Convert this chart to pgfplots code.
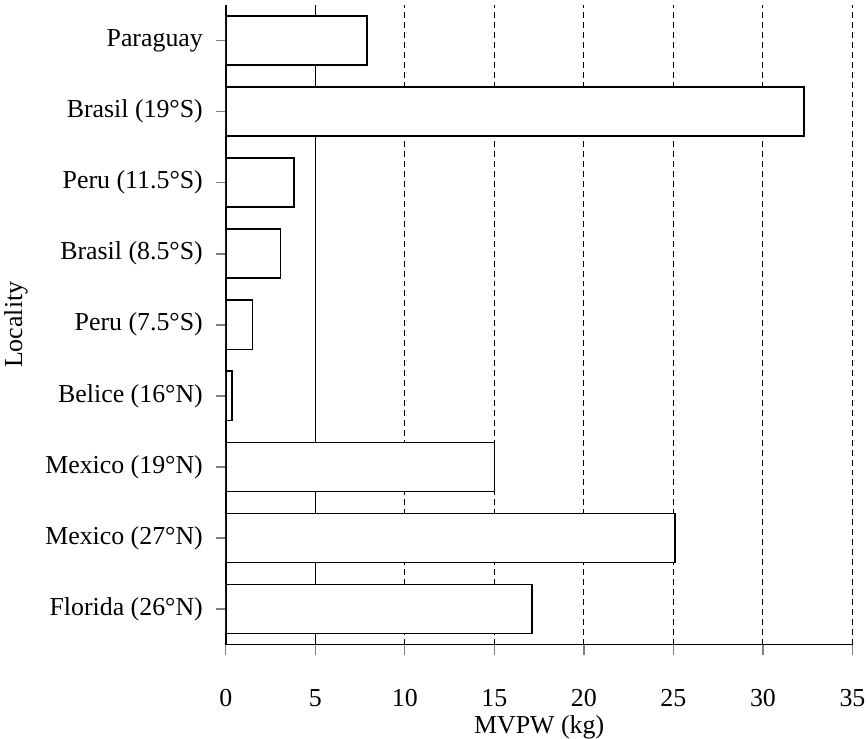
\documentclass[border=0pt]{standalone}
\usepackage{pgfplots}
\pgfplotsset{compat=1.18}
\usepackage{fontspec}
\setmainfont{Liberation Serif}
\begin{document}
\fontsize{13}{15}\selectfont
\begin{tikzpicture}
\useasboundingbox (-113.5pt,-47pt) rectangle (322.3pt,324pt);
\begin{axis}[
  at={(0pt,0pt)}, anchor=south west,
  scale only axis,
  width=315pt, height=321.5pt,
  xbar, bar width=24.7pt,
  xmin=0, xmax=35, ymin=-0.5, ymax=8.5,
  axis x line=bottom, axis y line=left,
  axis line style={-, line width=0.8pt},
  xtick={0,5,...,35},
  ytick={0,...,8},
  yticklabels={Florida (26°N),Mexico (27°N),Mexico (19°N),Belice (16°N),Peru (7.5°S),Brasil (8.5°S),Peru (11.5°S),Brasil (19°S),Paraguay},
  tick align=outside,
  major tick length=5pt,
  xtick style={line width=0.6pt},
  ytick style={line width=0.8pt},
  yticklabel style={xshift=-2pt},
  xticklabel style={yshift=-13pt},
  /pgf/number format/assume math mode=true,
  xmajorgrids,
  grid style={densely dashed, line width=0.5pt, black},
  extra x ticks={5}, extra x tick labels={},
  extra x tick style={grid style={solid, line width=0.6pt, black}},
  xlabel={MVPW (kg)},
  ylabel={Locality},
  xlabel style={at={(axis description cs:0.5,0)}, anchor=base, yshift=-44.5pt},
]
\addplot[draw=black, fill=white, line width=0.8pt] coordinates {
(17.1,0) (25.1,1) (15.0,2) (0.35,3) (1.5,4) (3.05,5) (3.8,6) (32.3,7) (7.9,8)};
\end{axis}
\end{tikzpicture}
\end{document}
